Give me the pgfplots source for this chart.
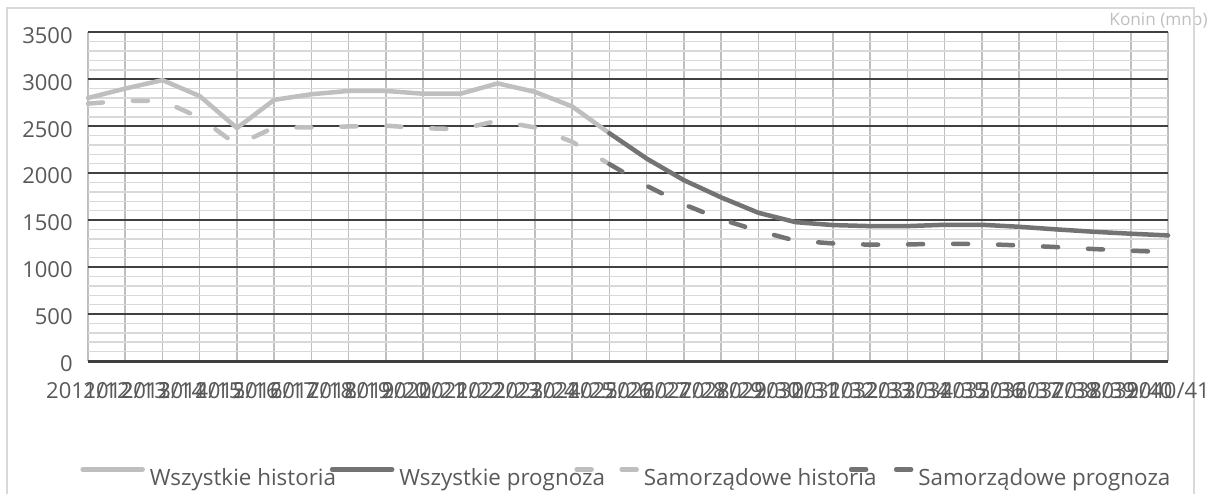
\documentclass[border=0pt]{standalone}
\usepackage{fontspec}
\setmainfont{Open Sans}
\usepackage{pgfplots}
\pgfplotsset{compat=1.18}
\definecolor{histc}{HTML}{BFBFBF}
\definecolor{progc}{HTML}{737373}
\definecolor{txt}{HTML}{595959}
\definecolor{majg}{HTML}{404040}
\definecolor{ming}{HTML}{D9D9D9}
\definecolor{vg}{HTML}{BFBFBF}
\definecolor{framec}{HTML}{D9D9D9}
\definecolor{konin}{HTML}{BFBFBF}
\begin{document}
\begin{tikzpicture}[x=1pt,y=1pt]
\path (0,0) rectangle (607.5,247.5);
\node[anchor=east, inner sep=0pt, text=konin, font=\fontsize{8.6}{10}\selectfont] at (604,237) {Konin (mnp)};
\draw[framec, line width=0.75pt] (3.5,0.5) -- (3.5,243.5) -- (597,243.5) -- (597,0.5);
\begin{axis}[
  at={(44pt,67pt)}, anchor=south west,
  scale only axis, width=540pt, height=164.4pt,
  xmin=0, xmax=29, ymin=0, ymax=3500,
  clip=false, no marks,
  axis x line*=bottom, axis y line*=left,
  x axis line style={majg, line width=1.5pt},
  y axis line style={draw=none},
  xtick={0,...,29},
  xticklabels={2011/12,2012/13,2013/14,2014/15,2015/16,2016/17,2017/18,2018/19,2019/20,2020/21,2021/22,2022/23,2023/24,2024/25,2025/26,2026/27,2027/28,2028/29,2029/30,2030/31,2031/32,2032/33,2033/34,2034/35,2035/36,2036/37,2037/38,2038/39,2039/40,2040/41},
  ytick={0,500,...,3500},
  minor y tick num=4,
  xmajorgrids, ymajorgrids, yminorgrids,
  major x grid style={vg, line width=0.75pt},
  major y grid style={majg, line width=0.75pt},
  minor y grid style={ming, line width=0.75pt},
  major tick length=0pt, minor tick length=0pt,
  scaled y ticks=false,
  /pgf/number format/assume math mode=true,
  /pgf/number format/1000 sep={},
  every tick label/.append style={font=\fontsize{11}{13}\selectfont, text=txt},
  yticklabel style={anchor=east, inner sep=0pt, xshift=-7.5pt, yshift=-1.5pt},
  xticklabel style={anchor=base, inner sep=0pt, yshift=-18.5pt},
  legend columns=4,
  legend style={at={(-0.0074,-0.3556)}, anchor=west, draw=none, fill=none, inner sep=0pt,
    font=\fontsize{11.2}{13}\selectfont, text=txt, column sep=0pt,
    /tikz/every odd column/.append style={column sep=2.5pt},
    nodes={inner sep=0pt}},
  legend image code/.code={\draw[#1, line cap=round] (0pt,4.5pt) -- (30pt,4.5pt);},
]
\addplot[histc, line width=2.25pt, line join=round, line cap=round] coordinates {
(0,2800)(1,2900)(2,2990)(3,2820)(4,2480)(5,2780)(6,2840)(7,2875)(8,2875)(9,2845)(10,2845)(11,2955)(12,2865)(13,2710)(14,2425)};
\addplot[progc, line width=2.25pt, line join=round, line cap=round] coordinates {
(14,2425)(15,2155)(16,1925)(17,1742)(18,1578)(19,1478)(20,1447)(21,1436)(22,1436)(23,1450)(24,1450)(25,1429)(26,1401)(27,1376)(28,1355)(29,1337)};
\addplot[histc, line width=2.25pt, line join=round, line cap=round, dash pattern=on 7.5pt off 15pt] coordinates {
(0,2740)(1,2770)(2,2770)(3,2590)(4,2300)(5,2486)(6,2486)(7,2497)(8,2505)(9,2478)(10,2468)(11,2557)(12,2486)(13,2334)(14,2096)};
\addplot[progc, line width=2.25pt, line join=round, line cap=round, dash pattern=on 7.5pt off 15pt] coordinates {
(14,2096)(15,1866)(16,1667)(17,1508)(18,1386)(19,1280)(20,1252)(21,1238)(22,1241)(23,1248)(24,1245)(25,1231)(26,1213)(27,1192)(28,1174)(29,1160)};
\legend{\makebox[90pt][l]{Wszystkie historia}, \makebox[87.5pt][l]{Wszystkie prognoza}, \makebox[102.5pt][l]{Samorządowe historia}, Samorządowe prognoza}
\end{axis}
\end{tikzpicture}
\end{document}
